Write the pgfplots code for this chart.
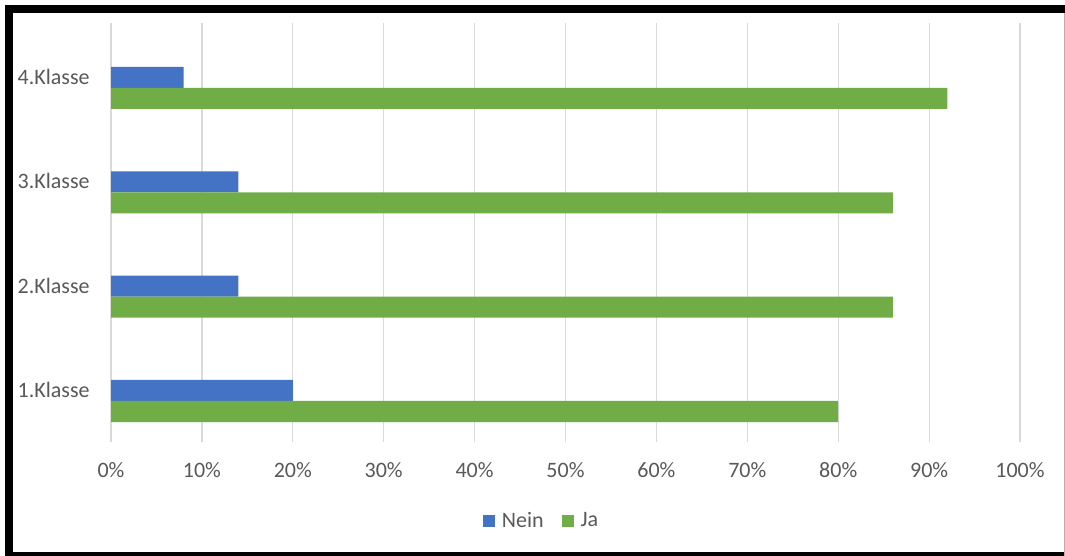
\documentclass[border=0pt]{standalone}
\usepackage{pgfplots}
\pgfplotsset{compat=1.18}
\usepackage{fontspec}
\setmainfont{Carlito}
\definecolor{nein}{HTML}{4472C4}
\definecolor{ja}{HTML}{70AD47}
\definecolor{txt}{HTML}{595959}
\definecolor{grd}{HTML}{D9D9D9}
\begin{document}
\begin{tikzpicture}
\fill[white] (0,0) rectangle (532.5pt,278pt);
\path[use as bounding box] (0,0) rectangle (532.5pt,278pt);
\begin{axis}[
  at={(55.5pt,57pt)}, anchor=south west,
  scale only axis, width=454.5pt, height=209.5pt,
  xmin=0, xmax=100, ymin=-0.393, ymax=3.623,
  xbar, bar width=0.2013,
  axis line style={draw=none},
  tick style={draw=none},
  major tick length=0pt,
  xmajorgrids, grid style={grd, line width=0.6pt},
  xtick={0,10,20,30,40,50,60,70,80,90,100},
  xticklabels={0\%,10\%,20\%,30\%,40\%,50\%,60\%,70\%,80\%,90\%,100\%},
  ytick={0,1,2,3},
  yticklabels={1.Klasse,2.Klasse,3.Klasse,4.Klasse},
  xticklabel style={font=\fontsize{11}{13}\selectfont, text=txt, anchor=center, inner sep=0pt, yshift=-14pt},
  yticklabel style={font=\fontsize{11}{13}\selectfont, text=txt, anchor=east, inner sep=0pt, yshift=5.5pt},
  yticklabel shift=10.5pt,
  legend columns=2,
  legend style={at={(0.4747,-0.1885)}, anchor=center, draw=none, fill=none,
    font=\fontsize{11}{13}\selectfont, text=txt,
    /tikz/every even column/.append style={column sep=7pt}},
]
\addplot[fill=nein, draw=none, bar shift=0.1007,
  legend image code/.code={\fill[nein] (0pt,-3pt) rectangle (6pt,3pt); \path (7.5pt,0pt);}]
  coordinates {(20,0) (14,1) (14,2) (8,3)};
\addplot[fill=ja, draw=none, bar shift=-0.1007,
  legend image code/.code={\fill[ja] (0pt,-3pt) rectangle (6pt,3pt); \path (7.5pt,0pt);}]
  coordinates {(80,0) (86,1) (86,2) (92,3)};
\legend{Nein,Ja}
\end{axis}
\fill[black] (2.5pt,0) rectangle (6.5pt,275.5pt);
\fill[black] (2.5pt,271.5pt) rectangle (532.5pt,275.5pt);
\fill[black] (2.5pt,0) rectangle (532.5pt,1.8pt);
\draw[gray!60, line width=0.6pt] (532.2pt,0) -- (532.2pt,271.5pt);
\end{tikzpicture}
\end{document}
